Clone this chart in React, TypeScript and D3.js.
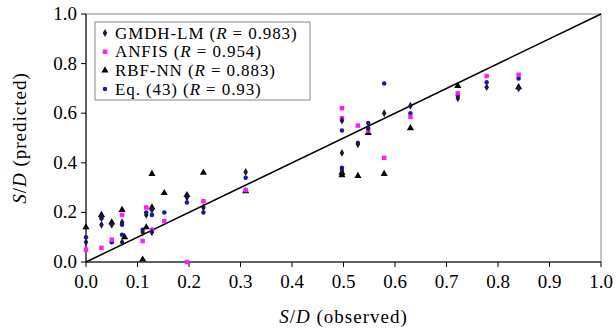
import React from "react";
import * as d3 from "d3";

type Pt = [number, number];

const gmdh: Pt[] = [
  [0, 0.08], [0.03, 0.18], [0.03, 0.15], [0.05, 0.15], [0.07, 0.16], [0.07, 0.08],
  [0.11, 0.12], [0.117, 0.19], [0.128, 0.21], [0.128, 0.12], [0.196, 0.26], [0.228, 0.22],
  [0.31, 0.363], [0.497, 0.57], [0.497, 0.44], [0.497, 0.37], [0.528, 0.475], [0.548, 0.54],
  [0.579, 0.6], [0.63, 0.63], [0.722, 0.66], [0.778, 0.705], [0.84, 0.7],
];
const anfis: Pt[] = [
  [0, 0.05], [0.03, 0.057], [0.05, 0.09], [0.07, 0.19], [0.11, 0.085], [0.117, 0.22],
  [0.128, 0.13], [0.152, 0.165], [0.196, 0.0], [0.228, 0.245], [0.31, 0.29],
  [0.497, 0.62], [0.497, 0.58], [0.528, 0.55], [0.548, 0.53], [0.579, 0.42],
  [0.63, 0.585], [0.722, 0.68], [0.778, 0.75], [0.84, 0.755],
];
const rbf: Pt[] = [
  [0, 0.14], [0.03, 0.19], [0.05, 0.16], [0.07, 0.21], [0.075, 0.1], [0.11, 0.01],
  [0.117, 0.14], [0.128, 0.355], [0.128, 0.22], [0.152, 0.278], [0.196, 0.27],
  [0.228, 0.36], [0.31, 0.286], [0.497, 0.36], [0.497, 0.35], [0.528, 0.347],
  [0.548, 0.52], [0.579, 0.355], [0.63, 0.54], [0.722, 0.71], [0.84, 0.705],
];
const eq43: Pt[] = [
  [0, 0.1], [0.03, 0.175], [0.05, 0.08], [0.07, 0.11], [0.07, 0.15], [0.11, 0.13],
  [0.117, 0.2], [0.128, 0.19], [0.152, 0.2], [0.196, 0.24], [0.228, 0.2], [0.31, 0.34],
  [0.497, 0.53], [0.497, 0.38], [0.528, 0.48], [0.548, 0.56], [0.579, 0.72],
  [0.63, 0.6], [0.722, 0.67], [0.778, 0.725], [0.84, 0.74],
];

const legendLabels = ["GMDH-LM", "ANFIS", "RBF-NN", "Eq. (43)"];
const legendR = ["0.983", "0.954", "0.883", "0.93"];

const xTicks = d3.range(0, 1.01, 0.1);
const yTicks = d3.range(0, 1.01, 0.2);

const W = 616;
const H = 330;
const m = { left: 86, right: 15, top: 14, bottom: 68 };
const font = "'Liberation Serif', 'DejaVu Serif', serif";

const x = d3.scaleLinear().domain([0, 1]).range([m.left, W - m.right]);
const y = d3.scaleLinear().domain([0, 1]).range([H - m.bottom, m.top]);

const sym = {
  gmdh: d3.symbol().type(d3.symbolDiamond).size(18)(),
  anfis: d3.symbol().type(d3.symbolSquare).size(20)(),
  rbf: d3.symbol().type(d3.symbolTriangle).size(22)(),
  eq: d3.symbol().type(d3.symbolCircle).size(16)(),
};

const series = [
  { data: gmdh, path: sym.gmdh, color: "#1a1a40" },
  { data: anfis, path: sym.anfis, color: "#ff1aff" },
  { data: rbf, path: sym.rbf, color: "#000000" },
  { data: eq43, path: sym.eq, color: "#1a1aa0" },
];

export default function App() {
  const line = d3.line<Pt>().x((d) => x(d[0])).y((d) => y(d[1]));
  // draw order: eq, rbf, anfis, gmdh on top
  const order = [3, 2, 1, 0];
  return (
    <svg width={W} height={H} style={{ position: "absolute", left: 0, top: 0, background: "#fff" }} fontFamily={font}>
      <rect x={x(0)} y={y(1)} width={x(1) - x(0)} height={y(0) - y(1)} fill="none" stroke="#888" strokeWidth={1} />
      <line x1={x(0)} x2={x(0)} y1={y(0)} y2={y(1)} stroke="#000" />
      <line x1={x(0)} x2={x(1)} y1={y(0)} y2={y(0)} stroke="#000" />

      {xTicks.map((t) => (
        <g key={"x" + t}>
          <line x1={x(t)} x2={x(t)} y1={y(0)} y2={y(0) + 5} stroke="#000" />
          <text x={x(t)} y={y(0) + 26} textAnchor="middle" fontSize={19}>{t.toFixed(1)}</text>
        </g>
      ))}
      {yTicks.map((t) => (
        <g key={"y" + t}>
          <line x1={x(0) - 5} x2={x(0)} y1={y(t)} y2={y(t)} stroke="#000" />
          <text x={x(0) - 9} y={y(t) + 6} textAnchor="end" fontSize={19}>{t.toFixed(1)}</text>
        </g>
      ))}

      <text x={(x(0) + x(1)) / 2} y={323} textAnchor="middle" fontSize={19} letterSpacing={1}>
        <tspan fontStyle="italic">S</tspan>/<tspan fontStyle="italic">D</tspan> (observed)
      </text>
      <text transform={`translate(26,${(y(0) + y(1)) / 2}) rotate(-90)`} textAnchor="middle" fontSize={19} letterSpacing={1}>
        <tspan fontStyle="italic">S</tspan>/<tspan fontStyle="italic">D</tspan> (predicted)
      </text>

      <path d={line([[0, 0], [1, 1]]) || ""} stroke="#000" strokeWidth={1.5} fill="none" />

      {order.map((i) => (
        <g key={"s" + i}>
          {series[i].data.map((d, j) => (
            <path key={j} d={series[i].path || ""} fill={series[i].color} transform={`translate(${x(d[0])},${y(d[1])})`} />
          ))}
        </g>
      ))}

      <g transform="translate(95,22)">
        <rect width={215} height={78} fill="#fff" stroke="#888" />
        {legendLabels.map((name, i) => (
          <g key={name} transform={`translate(0,${11 + i * 18.7})`}>
            <path d={series[i].path || ""} fill={series[i].color} transform="translate(10,0)" />
            <text x={20} y={5.5} fontSize={17} letterSpacing={0.9}>
              {name} (<tspan fontStyle="italic">R</tspan>{" = "}{legendR[i]})
            </text>
          </g>
        ))}
      </g>
    </svg>
  );
}
